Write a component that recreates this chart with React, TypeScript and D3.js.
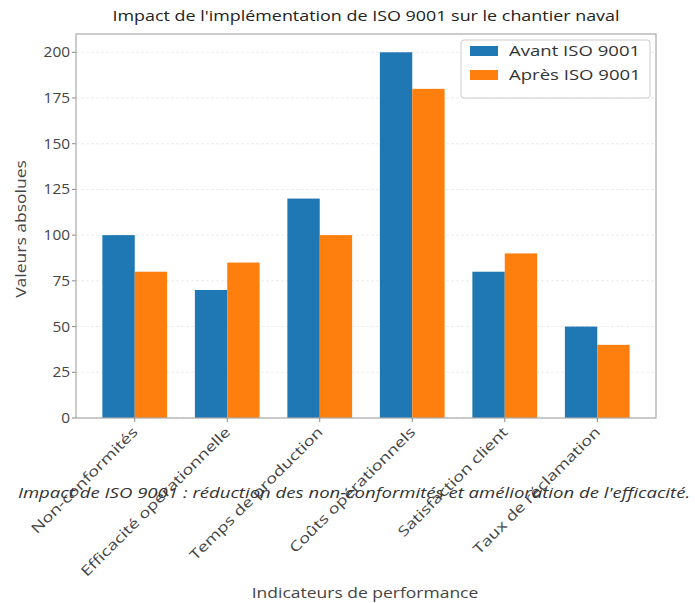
import React from "react";
import * as d3 from "d3";

const categories = [
  "Non-conformités",
  "Efficacité opérationnelle",
  "Temps de production",
  "Coûts opérationnels",
  "Satisfaction client",
  "Taux de réclamation",
];
const avant = [100, 70, 120, 200, 80, 50];
const apres = [80, 85, 100, 180, 90, 40];
const seriesNames = ["Avant ISO 9001", "Après ISO 9001"];
const colors = ["#1f77b4", "#ff7f0e"];
const yTicks = [0, 25, 50, 75, 100, 125, 150, 175, 200];

const W = 695, H = 603;
const L = 76, R = 656, T = 34, B = 418;
const FONT = "'Open Sans', 'DejaVu Sans', sans-serif";

export default function App() {
  const x = d3.scaleLinear().domain([-0.635, 5.635]).range([L, R]);
  const y = d3.scaleLinear().domain([0, 210]).range([B, T]);
  const bw = x(0.35) - x(0);
  const series = [avant, apres];
  return (
    <svg width={W} height={H} style={{ position: "absolute", left: 0, top: 0 }} fontFamily={FONT}>
      <rect width={W} height={H} fill="#fff" />
      <text transform={`translate(${(L + R) / 2},21) scale(1.28,1)`} textAnchor="middle" fontSize={14} fill="#222">
        Impact de l'implémentation de ISO 9001 sur le chantier naval
      </text>
      {yTicks.map((t) => (
        <g key={t}>
          <line x1={L} x2={R} y1={y(t)} y2={y(t)} stroke="#ddd" strokeWidth={0.8} strokeDasharray="3,2" opacity={0.7} />
          <line x1={L - 4} x2={L} y1={y(t)} y2={y(t)} stroke="#888" />
          <text transform={`translate(${L - 6},${y(t)}) scale(1.1,1)`} dy="0.36em" textAnchor="end" fontSize={14} fill="#444">{t}</text>
        </g>
      ))}
      {series.map((vals, si) =>
        vals.map((v, i) => (
          <rect
            key={si + "-" + i}
            x={x(i + (si === 0 ? -0.35 : 0))}
            y={y(v)}
            width={bw}
            height={y(0) - y(v)}
            fill={colors[si]}
          />
        ))
      )}
      <rect x={L} y={T} width={R - L} height={B - T} fill="none" stroke="#aaa" strokeWidth={1.2} />
      {categories.map((c, i) => (
        <g key={c}>
          <line x1={x(i)} x2={x(i)} y1={B} y2={B + 4} stroke="#888" />
          <text
            transform={`translate(${x(i) - 3},${B + 8}) rotate(-45) scale(1.3,1)`}
            textAnchor="end"
            dy="0.7em"
            fontSize={14}
            fill="#444"
          >
            {c}
          </text>
        </g>
      ))}
      <text
        transform={`translate(26,${(T + B) / 2 + 3}) rotate(-90) scale(1.25,1)`}
        textAnchor="middle"
        fontSize={14}
        fill="#444"
      >
        Valeurs absolues
      </text>
      <text transform={`translate(365,598) scale(1.25,1)`} textAnchor="middle" fontSize={14} fill="#444">
        Indicateurs de performance
      </text>
      <text transform={`translate(354,498) scale(1.24,1)`} textAnchor="middle" fontSize={15} fontStyle="italic" fill="#333">
        Impact de ISO 9001 : réduction des non-conformités et amélioration de l'efficacité.
      </text>
      <g>
        <rect x={461} y={40} width={189} height={58} rx={3} fill="#fff" fillOpacity={0.85} stroke="#ccc" />
        {seriesNames.map((n, i) => (
          <g key={n}>
            <rect x={470} y={46 + i * 24} width={28} height={10} fill={colors[i]} />
            <text transform={`translate(509,${51 + i * 24}) scale(1.28,1)`} dy="0.36em" fontSize={14.5} fill="#333">{n}</text>
          </g>
        ))}
      </g>
    </svg>
  );
}
